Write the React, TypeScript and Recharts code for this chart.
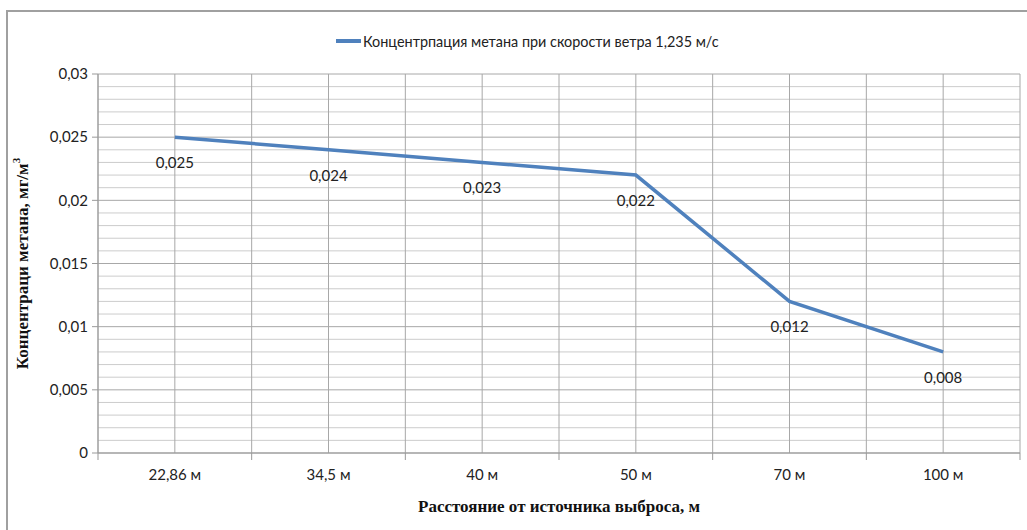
import { LineChart, Line, XAxis, YAxis, CartesianGrid, Legend, LabelList } from 'recharts'

const distances = ['22,86 м', '34,5 м', '40 м', '50 м', '70 м', '100 м']
const concentration = [0.025, 0.024, 0.023, 0.022, 0.012, 0.008]
const yTicks = [0, 0.005, 0.01, 0.015, 0.02, 0.025, 0.03]
const yMinor = [
  0.001, 0.002, 0.003, 0.004, 0.006, 0.007, 0.008, 0.009, 0.011, 0.012, 0.013, 0.014, 0.016,
  0.017, 0.018, 0.019, 0.021, 0.022, 0.023, 0.024, 0.026, 0.027, 0.028, 0.029,
]
const xTicks = [0, 0.5, 1, 1.5, 2, 2.5, 3, 3.5, 4, 4.5, 5, 5.5, 6]
const seriesName = 'Концентрпация метана при скорости ветра 1,235 м/с'

const BLUE = '#4F81BD'
const FONT = 'Lato, "Open Sans", sans-serif'
const SERIF = '"Liberation Serif", "DejaVu Serif", serif'

const data = distances.map((d, i) => ({ pos: i + 0.5, name: d, value: concentration[i] }))

const comma = (v: number) => String(v).replace('.', ',')

function XTick(props: any) {
  const { x, y, payload } = props
  const v = payload.value as number
  if (Number.isInteger(v)) {
    return <line x1={x} x2={x} y1={y} y2={y + 7} stroke="#999" strokeWidth={1} />
  }
  const label = distances[Math.floor(v)]
  return (
    <text x={x} y={y + 21} textAnchor="middle" dominantBaseline="central" fontSize={15} fontFamily={FONT} fill="#222">
      {label}
    </text>
  )
}

function PointLabel(props: any) {
  const { x, y, value } = props
  return (
    <text x={x} y={y + 25} textAnchor="middle" dominantBaseline="central" fontSize={15} fontFamily={FONT} fill="#222">
      {comma(value)}
    </text>
  )
}

function YTitle(props: any) {
  const { viewBox } = props
  const cx = viewBox.x - 16
  const cy = viewBox.y + viewBox.height / 2
  return (
    <text
      x={cx}
      y={cy}
      transform={`rotate(-90 ${cx} ${cy})`}
      textAnchor="middle"
      dominantBaseline="central"
      fontSize={17}
      fontWeight="bold"
      fontFamily={SERIF}
      fill="#111"
    >
      Концентраци метана, мг/м
      <tspan fontSize={11} dy={-6}>3</tspan>
    </text>
  )
}

function XTitle(props: any) {
  const { viewBox } = props
  return (
    <text
      x={viewBox.x + viewBox.width / 2}
      y={viewBox.y + 53}
      textAnchor="middle"
      dominantBaseline="central"
      fontSize={17}
      fontWeight="bold"
      fontFamily={SERIF}
      fill="#111"
    >
      Расстояние от источника выброса, м
    </text>
  )
}

function LegendContent() {
  return (
    <div style={{ display: 'flex', alignItems: 'center', height: 20, fontFamily: FONT, fontSize: 14.4, color: '#222', whiteSpace: 'nowrap' }}>
      <span style={{ display: 'inline-block', width: 25, height: 4, background: BLUE, marginRight: 2 }} />
      <span>{seriesName}</span>
    </div>
  )
}

export default function App() {
  return (
    <div style={{ position: 'absolute', left: 0, top: 0, width: 1027, height: 530, background: '#fff', overflow: 'hidden' }}>
      <div
        style={{
          position: 'absolute',
          left: 6,
          top: 10,
          width: 1040,
          height: 540,
          border: '2px solid #a0a0a0',
          boxSizing: 'border-box',
        }}
      />
      <LineChart
        width={1027}
        height={530}
        data={data}
        margin={{ top: 74, right: 7, left: 38, bottom: 47 }}
        style={{ position: 'absolute', left: 0, top: 0 }}
      >
        <CartesianGrid horizontal={true} vertical={false} horizontalValues={yMinor} stroke="#cccccc" />
        <CartesianGrid horizontal={true} vertical={true} horizontalValues={yTicks} stroke="#a8a8a8" />
        <XAxis
          type="number"
          dataKey="pos"
          domain={[0, 6]}
          ticks={xTicks}
          interval={0}
          tickLine={false}
          tickSize={0}
          tickMargin={0}
          tick={<XTick />}
          axisLine={{ stroke: '#999' }}
          height={30}
          label={<XTitle />}
        />
        <YAxis
          type="number"
          domain={[0, 0.03]}
          ticks={yTicks}
          interval={0}
          width={60}
          tickSize={6}
          tickMargin={4}
          tickLine={{ stroke: '#999' }}
          axisLine={{ stroke: '#999' }}
          tickFormatter={comma}
          tick={{ fontSize: 15, fontFamily: FONT, fill: '#222' }}
          label={<YTitle />}
        />
        <Legend
          verticalAlign="middle"
          align="center"
          content={<LegendContent />}
          wrapperStyle={{ top: 31, left: 336, width: 'auto' }}
        />
        <Line
          type="linear"
          dataKey="value"
          name={seriesName}
          stroke={BLUE}
          strokeWidth={3.5}
          dot={false}
          activeDot={false}
          isAnimationActive={false}
        >
          <LabelList dataKey="value" content={<PointLabel />} />
        </Line>
      </LineChart>
    </div>
  )
}
